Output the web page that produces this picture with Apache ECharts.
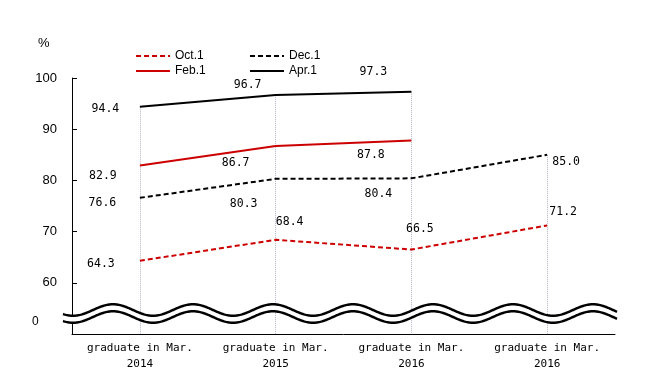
<!DOCTYPE html>
<html><head><meta charset="utf-8">
<script src="https://cdn.jsdelivr.net/npm/echarts@6/dist/echarts.min.js"></script>
<style>html,body{margin:0;padding:0;background:#fff}#c{width:647px;height:391px}</style>
</head><body><div id="c"></div>
<script>
// ---- data ----
const categories = ['graduate in Mar.\n2014', 'graduate in Mar.\n2015', 'graduate in Mar.\n2016', 'graduate in Mar.\n2016'];
const oct1 = [64.3, 68.4, 66.5, 71.2];
const dec1 = [76.6, 80.3, 80.4, 85.0];
const feb1 = [82.9, 86.7, 87.8, null];
const apr1 = [94.4, 96.7, 97.3, null];
const yTicks = [60, 70, 80, 90, 100];
const breakLabel = '0';
const unitLabel = '%';

// ---- label offsets (style only) ----
const offOct = [[-39, 3], [14, -18], [8.5, -21], [16, -13]];
const offDec = [[-37.5, 5], [-32, 25], [-33, 15.5], [19, 7]];
const offFeb = [[-37, 10], [-40, 17], [-40.5, 15], [0, 0]];
const offApr = [[-34.5, 2.5], [-28, -10], [-38, -20], [0, 0]];

const RED = '#cc0000', BLACK = '#000000';
const monoFont = '"DejaVu Sans Mono", "Liberation Mono", monospace';
const sansFont = '"Liberation Sans", Arial, sans-serif';

function mkData(vals, offs) {
  return vals.map((v, i) => ({
    value: v,
    label: { offset: offs[i] }
  }));
}
function mkSeries(name, vals, offs, color, dashed) {
  return {
    name, type: 'line', data: mkData(vals, offs),
    symbol: 'circle', symbolSize: 2,
    itemStyle: { color: 'transparent', borderWidth: 0 },
    lineStyle: { color, width: 2, type: dashed ? [5, 3] : 'solid' },
    label: {
      show: true, position: 'inside', color: '#000',
      fontFamily: monoFont, fontSize: 11.5,
      formatter: p => p.value == null ? '' : Number(p.value).toFixed(1)
    },
    emphasis: { disabled: true },
    z: 5
  };
}

const allSeries = [oct1, dec1, feb1, apr1];
const tops = categories.map((c, i) => Math.max(...allSeries.map(a => a[i]).filter(v => v != null)));

const oct = mkSeries('Oct.1', oct1, offOct, RED, true);
oct.markLine = {
  silent: true, symbol: ['none', 'none'], label: { show: false },
  lineStyle: { color: '#b4b4c8', type: 'dotted', width: 1 },
  emphasis: { disabled: true },
  data: tops.map((t, i) => [{ coord: [i, t] }, { coord: [i, 50] }])
};
oct.z = 5;

// ---- axis break (decoration) ----
const X0 = 63, X1 = 617, PERIOD = 80, PEAK = 113, AMP = 5.75, UC = 310, LC = 317;
const up = [], lo = [];
for (let x = X0; x <= X1; x += 1) {
  const c = Math.cos(2 * Math.PI * (x - PEAK) / PERIOD);
  up.push([x, UC - AMP * c]);
  lo.push([x, LC - AMP * c]);
}
const fillPts = up.concat(lo.slice().reverse());

const chart = echarts.init(document.getElementById('c'), null, { renderer: 'canvas' });
chart.setOption({
  animation: false,
  backgroundColor: '#fff',
  grid: { left: 72, top: 78, width: 543, height: 256, containLabel: false },
  legend: [
    { data: ['Oct.1', 'Feb.1'], left: 135, top: 50, orient: 'vertical', itemWidth: 34, itemHeight: 12, itemGap: 3, padding: 0,
      textStyle: { fontFamily: sansFont, fontSize: 12, color: '#000' } },
    { data: ['Dec.1', 'Apr.1'], left: 249, top: 50, orient: 'vertical', itemWidth: 34, itemHeight: 12, itemGap: 3, padding: 0,
      textStyle: { fontFamily: sansFont, fontSize: 12, color: '#000' } }
  ],
  xAxis: {
    type: 'category', data: categories, boundaryGap: true,
    axisLine: { lineStyle: { color: '#000', width: 1 } },
    axisTick: { show: false },
    axisLabel: { color: '#000', fontFamily: monoFont, fontSize: 11, lineHeight: 16, margin: 6, interval: 0 },
    splitLine: { show: false }
  },
  yAxis: {
    type: 'value', min: 50, max: 100, interval: 10,
    axisLine: { show: true, lineStyle: { color: '#000', width: 1 } },
    axisTick: { show: true, inside: true, length: 5, lineStyle: { color: '#000' } },
    axisLabel: { color: '#000', fontFamily: sansFont, fontSize: 13, margin: 15,
      formatter: v => yTicks.includes(v) ? String(v) : '' },
    splitLine: { show: false }
  },
  graphic: [
    { type: 'text', left: 38, top: 37, style: { text: unitLabel, fontFamily: sansFont, fontSize: 13, fill: '#000' } },
    { type: 'text', left: 32, top: 316, style: { text: breakLabel, fontFamily: sansFont, fontSize: 12, fill: '#000' } },
    { type: 'polygon', z: 100, silent: true, shape: { points: fillPts }, style: { fill: '#fff', stroke: null } },
    { type: 'polyline', z: 101, silent: true, shape: { points: up }, style: { stroke: '#000', lineWidth: 2.5, fill: null } },
    { type: 'polyline', z: 101, silent: true, shape: { points: lo }, style: { stroke: '#000', lineWidth: 2.5, fill: null } }
  ],
  series: [
    oct,
    mkSeries('Dec.1', dec1, offDec, BLACK, true),
    mkSeries('Feb.1', feb1, offFeb, RED, false),
    mkSeries('Apr.1', apr1, offApr, BLACK, false)
  ]
});
</script>
</body></html>
